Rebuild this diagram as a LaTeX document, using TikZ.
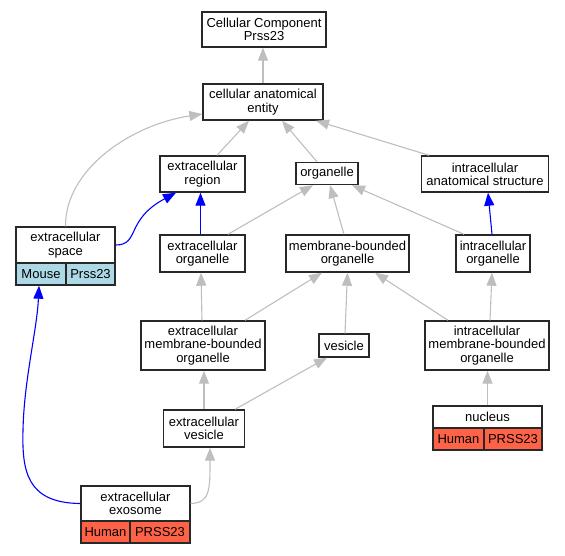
\documentclass[tikz,border=0pt]{standalone}
\usepackage{fontspec}
\setmainfont{Liberation Sans}
\usepackage{tikz}
\usetikzlibrary{arrows.meta}

\definecolor{edgegray}{RGB}{190,190,190}
\definecolor{mouseblue}{RGB}{173,216,230}
\definecolor{humanred}{RGB}{255,99,71}
\definecolor{boxline}{RGB}{40,40,40}

\tikzset{
  term/.style={draw=boxline, line width=1.4pt, fill=white, align=center, inner sep=0pt,
    font=\fontsize{13}{13.3}\selectfont},
  mousecell/.style={term, fill=mouseblue},
  humancell/.style={term, fill=humanred},
  isa/.style={draw=edgegray, line width=1.1pt, -{Triangle[length=13pt,width=10pt,fill=edgegray]}},
  partof/.style={draw=blue, line width=1.1pt, -{Triangle[length=13pt,width=10pt,fill=blue]}}
}

\begin{document}
\begin{tikzpicture}[x=1pt, y=-1pt]
    \useasboundingbox (0,0) rectangle (565,555);

    % top of the tree
    \node[term, minimum width=124pt, minimum height=35pt] (cc) at (264,29.5) {Cellular Component\\Prss23};
    \node[term, minimum width=120pt, minimum height=36pt] (cae) at (263,102) {cellular anatomical\\entity};

    % second row
    \node[term, minimum width=85pt, minimum height=36pt] (er) at (202.5,174) {extracellular\\region};
    \node[term, minimum width=62pt, minimum height=22pt] (org) at (327,173.5) {organelle};
    \node[term, minimum width=127pt, minimum height=36pt] (ias) at (485,174) {intracellular\\anatomical structure};

    % extracellular space, with its mouse gene
    \node[term, minimum width=99pt, minimum height=36pt] (es) at (65.5,245) {extracellular\\space};
    \node[mousecell, minimum width=50pt, minimum height=22pt] (esm) at (41,274) {Mouse};
    \node[mousecell, minimum width=49pt, minimum height=22pt] (esg) at (90.5,274) {Prss23};

    % third row
    \node[term, minimum width=85pt, minimum height=37pt] (eo) at (202.5,253.5) {extracellular\\organelle};
    \node[term, minimum width=123pt, minimum height=37pt] (mbo) at (347.5,253.5) {membrane-bounded\\organelle};
    \node[term, minimum width=74pt, minimum height=37pt] (io) at (493,253.5) {intracellular\\organelle};

    % fourth row
    \node[term, minimum width=124pt, minimum height=49pt] (embo) at (203,345.5) {extracellular\\membrane-bounded\\organelle};
    \node[term, minimum width=50pt, minimum height=23pt] (ves) at (344,345.5) {vesicle};
    \node[term, minimum width=124pt, minimum height=49pt] (imbo) at (487,345.5) {intracellular\\membrane-bounded\\organelle};

    % fifth row
    \node[term, minimum width=81pt, minimum height=37pt] (ev) at (204,428.5) {extracellular\\vesicle};
    \node[term, minimum width=109pt, minimum height=22pt] (nuc) at (487.5,417) {nucleus};
    \node[humancell, minimum width=51pt, minimum height=22pt] (nuch) at (458.5,439) {Human};
    \node[humancell, minimum width=58pt, minimum height=22pt] (nucg) at (513,439) {PRSS23};

    % exosome, with its human gene
    \node[term, minimum width=109pt, minimum height=35pt] (exo) at (135.5,503.5) {extracellular\\exosome};
    \node[humancell, minimum width=49pt, minimum height=22pt] (exoh) at (105.5,532) {Human};
    \node[humancell, minimum width=60pt, minimum height=22pt] (exog) at (160,532) {PRSS23};

    % is_a edges
    \draw[isa] (cae.north) -- (cae.north |- cc.south);
    \draw[isa] ([xshift=14.5pt]er.north) -- ([xshift=-14pt]cae.south);
    \draw[isa] ([xshift=-10pt]org.north) -- ([xshift=19pt]cae.south);
    \draw[isa] ([xshift=-56pt]ias.north) -- ([xshift=53pt]cae.south);
    \draw[isa] (es.north) .. controls (65,170) and (130,125) .. ([yshift=-12pt]cae.west);
    \draw[isa] ([xshift=25.5pt]eo.north) -- ([xshift=-14pt]org.south);
    \draw[isa] ([xshift=-3.5pt]mbo.north) -- ([xshift=3pt]org.south);
    \draw[isa] ([xshift=-29pt]io.north) -- ([xshift=25pt]org.south);
    \draw[isa] ([xshift=-1pt]embo.north) -- ([xshift=-1.5pt]eo.south);
    \draw[isa] ([xshift=42pt]embo.north) -- ([xshift=-25.5pt]mbo.south);
    \draw[isa] ([xshift=1pt]ves.north) -- (mbo.south);
    \draw[isa] ([xshift=-39pt]imbo.north) -- ([xshift=27.5pt]mbo.south);
    \draw[isa] ([xshift=3pt]imbo.north) -- ([xshift=-1pt]io.south);
    \draw[isa] (ev.north) -- ([xshift=1pt]embo.south);
    \draw[isa] ([xshift=31pt]ev.north) -- ([xshift=-17pt]ves.south);
    \draw[isa] (nuc.north) -- (nuc.north |- imbo.south);
    \draw[isa] (exo.east) .. controls (210,503) and (210,490) .. ([xshift=6pt]ev.south);

    % part_of edges
    \draw[partof] ([xshift=-2pt]eo.north) -- ([xshift=-2pt]er.south);
    \draw[partof] (es.east) .. controls (140,245) and (125,220) .. ([xshift=-26.5pt]er.south);
    \draw[partof] ([xshift=-1pt]io.north) -- ([xshift=3pt]ias.south);
    \draw[partof] (exo.west) .. controls (26,503) and (22,470) .. (23,430)
                  .. controls (24,380) and (37,330) .. ([xshift=-2pt]esm.south);

  \end{tikzpicture}
\end{document}
